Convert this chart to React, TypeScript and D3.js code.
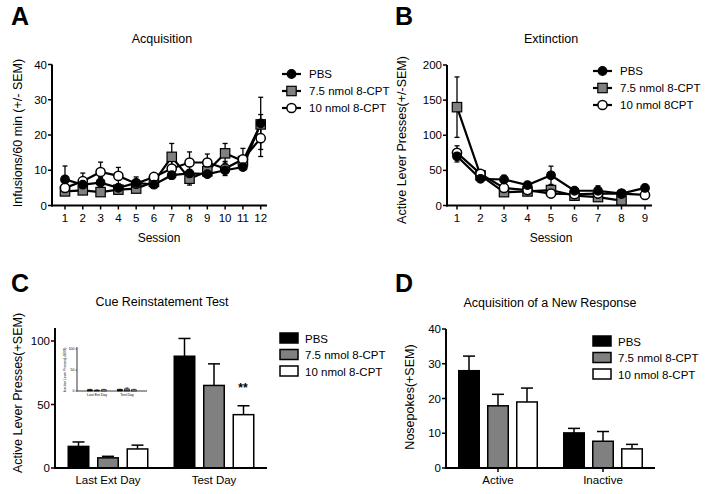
import React from "react";
import * as d3 from "d3";

const sessionsA = [1,2,3,4,5,6,7,8,9,10,11,12];
const pbsA = [7.4, 5.9, 6.5, 5.0, 6.4, 5.9, 8.6, 9.1, 8.9, 10.0, 10.9, 23.3];
const pbsAErr = [3.8, 1.5, 1.5, 1.0, 1.0, 0.8, 1.0, 1.0, 1.0, 0.8, 0.8, 7.4];
const grayA = [4.0, 4.3, 3.8, 4.5, 4.8, 6.7, 13.8, 7.6, 9.7, 14.8, 12.6, 23.0];
const grayAErr = [0.8, 0.7, 0.8, 0.7, 0.7, 1.0, 3.8, 1.8, 1.0, 2.8, 1.5, 2.8];
const openA = [5.0, 6.9, 9.5, 8.4, 6.2, 8.1, 10.5, 12.2, 12.2, 10.5, 13.1, 19.1];
const openAErr = [1.0, 2.3, 2.8, 2.4, 1.9, 0.8, 3.0, 3.0, 2.4, 2.0, 3.1, 5.2];

const sessionsB = [1,2,3,4,5,6,7,8,9];
const pbsB = [70, 38, 37, 29, 43, 21, 21, 17, 25];
const pbsBErr = [8, 5, 6, 4, 13, 3, 7, 3, 4];
const grayB = [140, 43, 19, 20, 22, 14, 12, 7];
const grayBErr = [43, 5, 3, 3, 6, 2, 3, 2];
const openB = [75, 45, 25, 22, 17, 16, 17, 17, 15];
const openBErr = [10, 5, 3, 3, 3, 2, 3, 2, 2];

const seriesNames = ["PBS", "7.5 nmol 8-CPT", "10 nmol 8-CPT"];
const seriesNamesB = ["PBS", "7.5 nmol 8-CPT", "10 nmol 8CPT"];
const barFills = ["#000000", "#808080", "#ffffff"];

const groupsC = ["Last Ext Day", "Test Day"];
const valuesC = [[17, 88], [8, 65], [15, 42]];
const errC = [[3.5, 14], [1.2, 17], [3, 7]];
const insetC = [[3, 3.5], [2, 5], [3, 3]];
const insetErrC = [[1, 1], [0.8, 2.5], [1, 1]];

const groupsD = ["Active", "Inactive"];
const valuesD = [[28, 10.1], [17.9, 7.7], [19, 5.5]];
const errD = [[4.2, 1.3], [3.3, 2.8], [4, 1.3]];

const FONT = "'Liberation Sans', Arial, Helvetica, sans-serif";

function Marker({ kind, x, y }: { kind: number; x: number; y: number }) {
  if (kind === 0) return <circle cx={x} cy={y} r={4.3} fill="#000" stroke="#000" strokeWidth={1.2} />;
  if (kind === 1) return <rect x={x - 4.7} y={y - 4.7} width={9.4} height={9.4} fill="#808080" stroke="#000" strokeWidth={1.2} />;
  return <circle cx={x} cy={y} r={4.6} fill="#fff" stroke="#000" strokeWidth={1.5} />;
}

function LinePanel(props: {
  x0: number; x1: number; xr: [number, number]; xs: number[];
  y0: number; y1: number; yMax: number; yTicks: number[];
  series: number[][]; errs: number[][];
}) {
  const { xs, series, errs } = props;
  const x = d3.scaleLinear().domain([xs[0], xs[xs.length - 1]]).range(props.xr);
  const y = d3.scaleLinear().domain([0, props.yMax]).range([props.y0, props.y1]);
  const line = d3.line<number>().x((_, i) => x(xs[i])).y((d) => y(d));
  const order = [1, 2, 0];
  return (
    <g>
      {series.map((s, k) => (
        <g key={"e" + k}>
          {s.map((v, i) => {
            const e = errs[k][i];
            return (
              <g key={i}>
                <line x1={x(xs[i])} x2={x(xs[i])} y1={y(v - e)} y2={y(v + e)} stroke="#000" strokeWidth={1.3} />
                <line x1={x(xs[i]) - 2.5} x2={x(xs[i]) + 2.5} y1={y(v + e)} y2={y(v + e)} stroke="#000" strokeWidth={1.3} />
                <line x1={x(xs[i]) - 2.5} x2={x(xs[i]) + 2.5} y1={y(v - e)} y2={y(v - e)} stroke="#000" strokeWidth={1.3} />
              </g>
            );
          })}
        </g>
      ))}
      {series.map((s, k) => (
        <path key={"l" + k} d={line(s) || ""} fill="none" stroke="#000" strokeWidth={2.2} />
      ))}
      {order.map((k) => (
        <g key={"m" + k}>
          {series[k].map((v, i) => <Marker key={i} kind={k} x={x(xs[i])} y={y(v)} />)}
        </g>
      ))}
      <line x1={props.x0} x2={props.x0} y1={props.y0 + 1} y2={props.y1} stroke="#000" strokeWidth={2} />
      <line x1={props.x0 - 1} x2={props.x1} y1={props.y0} y2={props.y0} stroke="#000" strokeWidth={2} />
      {props.yTicks.map((t) => (
        <g key={"yt" + t}>
          <line x1={props.x0 - 4} x2={props.x0} y1={y(t)} y2={y(t)} stroke="#000" strokeWidth={1.5} />
          <text x={props.x0 - 5} y={y(t) + 4} textAnchor="end" fontSize={11.5}>{t}</text>
        </g>
      ))}
      {xs.map((t) => (
        <g key={"xt" + t}>
          <line x1={x(t)} x2={x(t)} y1={props.y0} y2={props.y0 + 4} stroke="#000" strokeWidth={1.5} />
          <text x={x(t)} y={props.y0 + 16} textAnchor="middle" fontSize={11.5}>{t}</text>
        </g>
      ))}
    </g>
  );
}

function LineLegend({ x, y, names }: { x: number; y: number; names: string[] }) {
  return (
    <g>
      {names.map((n, k) => (
        <g key={n} transform={`translate(${x},${y + k * 17})`}>
          <line x1={0} x2={19} y1={0} y2={0} stroke="#000" strokeWidth={2.2} />
          <Marker kind={k} x={9.5} y={0} />
          <text x={27} y={4} fontSize={11.5}>{n}</text>
        </g>
      ))}
    </g>
  );
}

function BarLegend({ x, y, names }: { x: number; y: number; names: string[] }) {
  return (
    <g>
      {names.map((n, k) => (
        <g key={n} transform={`translate(${x},${y + k * 16.5})`}>
          <rect x={0} y={-5} width={18} height={10} fill={barFills[k]} stroke="#000" strokeWidth={1.5} />
          <text x={25} y={4.5} fontSize={11.5}>{n}</text>
        </g>
      ))}
    </g>
  );
}

function BarPanel(props: {
  x0: number; x1: number; bandRange: [number, number]; groups: string[];
  y0: number; yTop: number; yMaxVal: number; yMaxPx: number; yTicks: number[];
  values: number[][]; errs: number[][]; barW: number; step: number; fontSize: number;
  stroke: number; tickLen: number; xTicks: boolean; labelDy: number; capW: number;
}) {
  const gx = d3.scaleBand<string>().domain(props.groups).range(props.bandRange).padding(0);
  const half = (3 * props.step - (props.step - props.barW)) / 2;
  const inner = d3.scaleBand<number>().domain([0, 1, 2])
    .range([-half, half])
    .paddingInner((props.step - props.barW) / props.step).paddingOuter(0);
  const y = d3.scaleLinear().domain([0, props.yMaxVal]).range([props.y0, props.yMaxPx]);
  return (
    <g>
      {props.values.map((vals, k) => vals.map((v, gi) => {
        const cx = (gx(props.groups[gi]) as number) + gx.bandwidth() / 2;
        const bx = cx + (inner(k) as number);
        const top = y(v + props.errs[k][gi]);
        return (
          <g key={k + "-" + gi}>
            <line x1={bx + inner.bandwidth() / 2} x2={bx + inner.bandwidth() / 2} y1={y(v)} y2={top} stroke="#000" strokeWidth={props.stroke} />
            <line x1={bx + inner.bandwidth() / 2 - props.capW} x2={bx + inner.bandwidth() / 2 + props.capW} y1={top} y2={top} stroke="#000" strokeWidth={props.stroke} />
            <rect x={bx} y={y(v)} width={inner.bandwidth()} height={props.y0 - y(v)} fill={barFills[k]} stroke="#000" strokeWidth={props.stroke} />
          </g>
        );
      }))}
      <line x1={props.x0} x2={props.x0} y1={props.y0 + props.stroke / 2} y2={props.yTop} stroke="#000" strokeWidth={props.stroke * 1.3} />
      <line x1={props.x0 - props.stroke / 2} x2={props.x1} y1={props.y0} y2={props.y0} stroke="#000" strokeWidth={props.stroke * 1.3} />
      {props.yTicks.map((t) => (
        <g key={t}>
          <line x1={props.x0 - props.tickLen} x2={props.x0} y1={y(t)} y2={y(t)} stroke="#000" strokeWidth={props.stroke} />
          <text x={props.x0 - props.tickLen - 1} y={y(t) + props.fontSize * 0.35} textAnchor="end" fontSize={props.fontSize}>{t}</text>
        </g>
      ))}
      {props.groups.map((g) => {
        const cx = (gx(g) as number) + gx.bandwidth() / 2;
        return (
          <g key={g}>
            {props.xTicks && <line x1={cx} x2={cx} y1={props.y0} y2={props.y0 + props.tickLen} stroke="#000" strokeWidth={props.stroke} />}
            <text x={cx} y={props.y0 + props.labelDy} textAnchor="middle" fontSize={props.fontSize}>{g}</text>
          </g>
        );
      })}
    </g>
  );
}

export default function App() {
  return (
    <svg width={705} height={494} style={{ position: "absolute", left: 0, top: 0, background: "#fff" }} fontFamily={FONT}>
      <rect width={705} height={494} fill="#fff" />
      {/* Panel A */}
      <text x={11} y={25} fontSize={25} fontWeight="bold">A</text>
      <text x={162} y={43} textAnchor="middle" fontSize={12.5}>Acquisition</text>
      <text transform="translate(22,133) rotate(-90)" textAnchor="middle" fontSize={12.5}>Infusions/60 min (+/- SEM)</text>
      <LinePanel x0={52} x1={267} xr={[65, 260.7]} xs={sessionsA} y0={205.5} y1={64.5} yMax={40}
        yTicks={[0, 10, 20, 30, 40]} series={[pbsA, grayA, openA]} errs={[pbsAErr, grayAErr, openAErr]} />
      <text x={159} y={242} textAnchor="middle" fontSize={12}>Session</text>
      <LineLegend x={282} y={74} names={seriesNames} />

      {/* Panel B */}
      <text x={395} y={25} fontSize={25} fontWeight="bold">B</text>
      <text x={551} y={43} textAnchor="middle" fontSize={12.5}>Extinction</text>
      <text transform="translate(406,140) rotate(-90)" textAnchor="middle" fontSize={12.5}>Active Lever Presses(+/-SEM)</text>
      <LinePanel x0={447} x1={652} xr={[457, 645]} xs={sessionsB} y0={205.5} y1={65} yMax={200}
        yTicks={[0, 50, 100, 150, 200]} series={[pbsB, grayB, openB]} errs={[pbsBErr, grayBErr, openBErr]} />
      <text x={551} y={242} textAnchor="middle" fontSize={12}>Session</text>
      <LineLegend x={593} y={71} names={seriesNamesB} />

      {/* Panel C */}
      <text x={11} y={292} fontSize={25} fontWeight="bold">C</text>
      <text x={162} y={306} textAnchor="middle" fontSize={12.5}>Cue Reinstatement Test</text>
      <text transform="translate(22,393) rotate(-90)" textAnchor="middle" fontSize={12.5}>Active Lever Presses(+SEM)</text>
      <BarPanel x0={55} x1={267} bandRange={[55, 267]} groups={groupsC} y0={468} yTop={328}
        yMaxVal={100} yMaxPx={341} yTicks={[0, 50, 100]} values={valuesC} errs={errC}
        barW={20.5} step={29.5} fontSize={11.5} stroke={1.5} tickLen={4} xTicks={false} labelDy={16} capW={6} />
      <text x={243} y={392} textAnchor="middle" fontSize={12} fontWeight="bold">**</text>
      {/* inset */}
      <text transform="translate(66,370) rotate(-90)" textAnchor="middle" fontSize={3.3}>Inactive Lever Presses(+SEM)</text>
      <BarPanel x0={77} x1={147} bandRange={[82, 142]} groups={groupsC} y0={391} yTop={347}
        yMaxVal={100} yMaxPx={349} yTicks={[0, 50, 100]} values={insetC} errs={insetErrC}
        barW={5} step={7} fontSize={3.5} stroke={0.6} tickLen={1.5} xTicks={false} labelDy={5} capW={1.5} />
      <BarLegend x={280} y={338} names={seriesNames} />

      {/* Panel D */}
      <text x={395} y={292} fontSize={25} fontWeight="bold">D</text>
      <text x={550} y={307} textAnchor="middle" fontSize={12.5}>Acquisition of a New Response</text>
      <text transform="translate(413.5,397) rotate(-90)" textAnchor="middle" fontSize={12.5}>Nosepokes(+SEM)</text>
      <BarPanel x0={446} x1={655} bandRange={[445.5, 655.5]} groups={groupsD} y0={468} yTop={329}
        yMaxVal={40} yMaxPx={329} yTicks={[0, 10, 20, 30, 40]} values={valuesD} errs={errD}
        barW={20.5} step={29} fontSize={11.5} stroke={1.5} tickLen={4} xTicks={true} labelDy={16} capW={6} />
      <BarLegend x={593} y={341} names={seriesNames} />
    </svg>
  );
}
